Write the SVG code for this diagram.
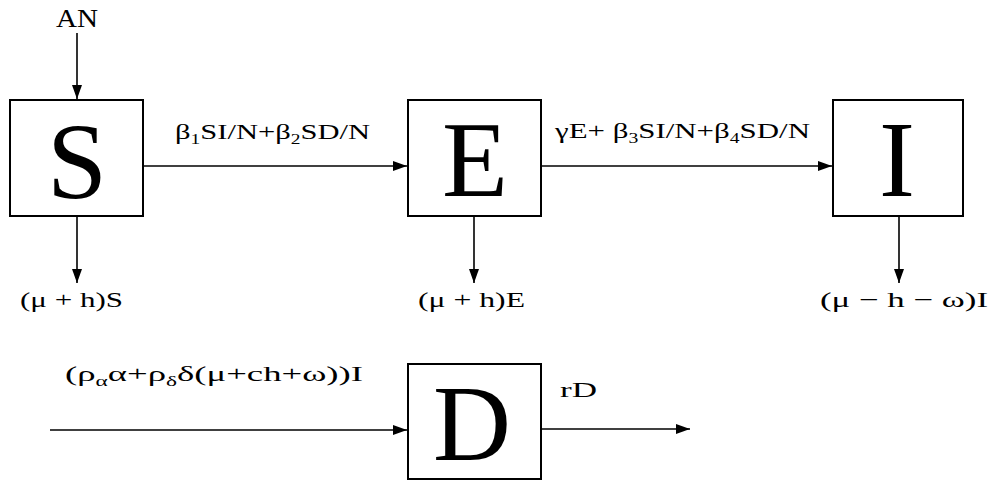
<svg xmlns="http://www.w3.org/2000/svg" width="994" height="487" viewBox="0 0 994 487">
<style>
.box{fill:#fff;stroke:#000;stroke-width:2}
.big{font-size:108px;text-anchor:middle;fill:#000}
.ln{stroke:#000;stroke-width:1.6;fill:none;marker-end:url(#ah)}
</style>
<defs>
<marker id="ah" viewBox="0 0 14 10" refX="14" refY="5" markerWidth="14" markerHeight="10" markerUnits="userSpaceOnUse" orient="auto">
<path d="M0,0 L14,5 L0,10 Z" fill="#000"/>
</marker>
</defs>
<rect width="994" height="487" fill="#fff"/>
<g id="connectors">
<line class="ln" x1="77" y1="33" x2="77" y2="99"/>
<line class="ln" x1="143" y1="166" x2="407" y2="166"/>
<line class="ln" x1="541" y1="166" x2="832" y2="166"/>
<line class="ln" x1="77" y1="216" x2="77" y2="283"/>
<line class="ln" x1="474" y1="216" x2="474" y2="283"/>
<line class="ln" x1="899" y1="216" x2="899" y2="283"/>
<line class="ln" x1="50" y1="430" x2="407" y2="430"/>
<line class="ln" x1="541" y1="429" x2="690" y2="429"/>
</g>
<g id="labels" font-family="Liberation Serif, serif" font-size="22" fill="#000">
<text x="77" y="27" text-anchor="middle" font-size="26" textLength="42" lengthAdjust="spacingAndGlyphs">AN</text>
<text x="175" y="139" textLength="195" lengthAdjust="spacingAndGlyphs">β<tspan font-size="14" dy="5">1</tspan><tspan dy="-5">SI/N+β</tspan><tspan font-size="14" dy="5">2</tspan><tspan dy="-5">SD/N</tspan></text>
<text x="555" y="138" textLength="255" lengthAdjust="spacingAndGlyphs">γE+ β<tspan font-size="14" dy="5">3</tspan><tspan dy="-5">SI/N+β</tspan><tspan font-size="14" dy="5">4</tspan><tspan dy="-5">SD/N</tspan></text>
<text x="20" y="307" textLength="103" lengthAdjust="spacingAndGlyphs">(μ + h)S</text>
<text x="418" y="307" textLength="107" lengthAdjust="spacingAndGlyphs">(μ + h)E</text>
<text x="820" y="307" textLength="168" lengthAdjust="spacingAndGlyphs">(μ − h − ω)I</text>
<text x="65" y="381" textLength="298" lengthAdjust="spacingAndGlyphs">(ρ<tspan font-size="14" dy="5">α</tspan><tspan dy="-5">α+ρ</tspan><tspan font-size="14" dy="5">δ</tspan><tspan dy="-5">δ(μ+ch+ω))I</tspan></text>
<text x="560" y="397" textLength="37" lengthAdjust="spacingAndGlyphs">rD</text>
</g>
<g id="S" font-family="Liberation Serif, serif">
<rect class="box" x="10" y="100" width="133" height="116"/>
<text class="big" x="77" y="198">S</text>
</g>
<g id="E" font-family="Liberation Serif, serif">
<rect class="box" x="408" y="100" width="133" height="116"/>
<text class="big" x="475" y="196">E</text>
</g>
<g id="I" font-family="Liberation Serif, serif">
<rect class="box" x="833" y="100" width="130" height="116"/>
<text class="big" x="897" y="196">I</text>
</g>
<g id="D" font-family="Liberation Serif, serif">
<rect class="box" x="408" y="364" width="133" height="115"/>
<text class="big" x="472" y="460">D</text>
</g>
</svg>
